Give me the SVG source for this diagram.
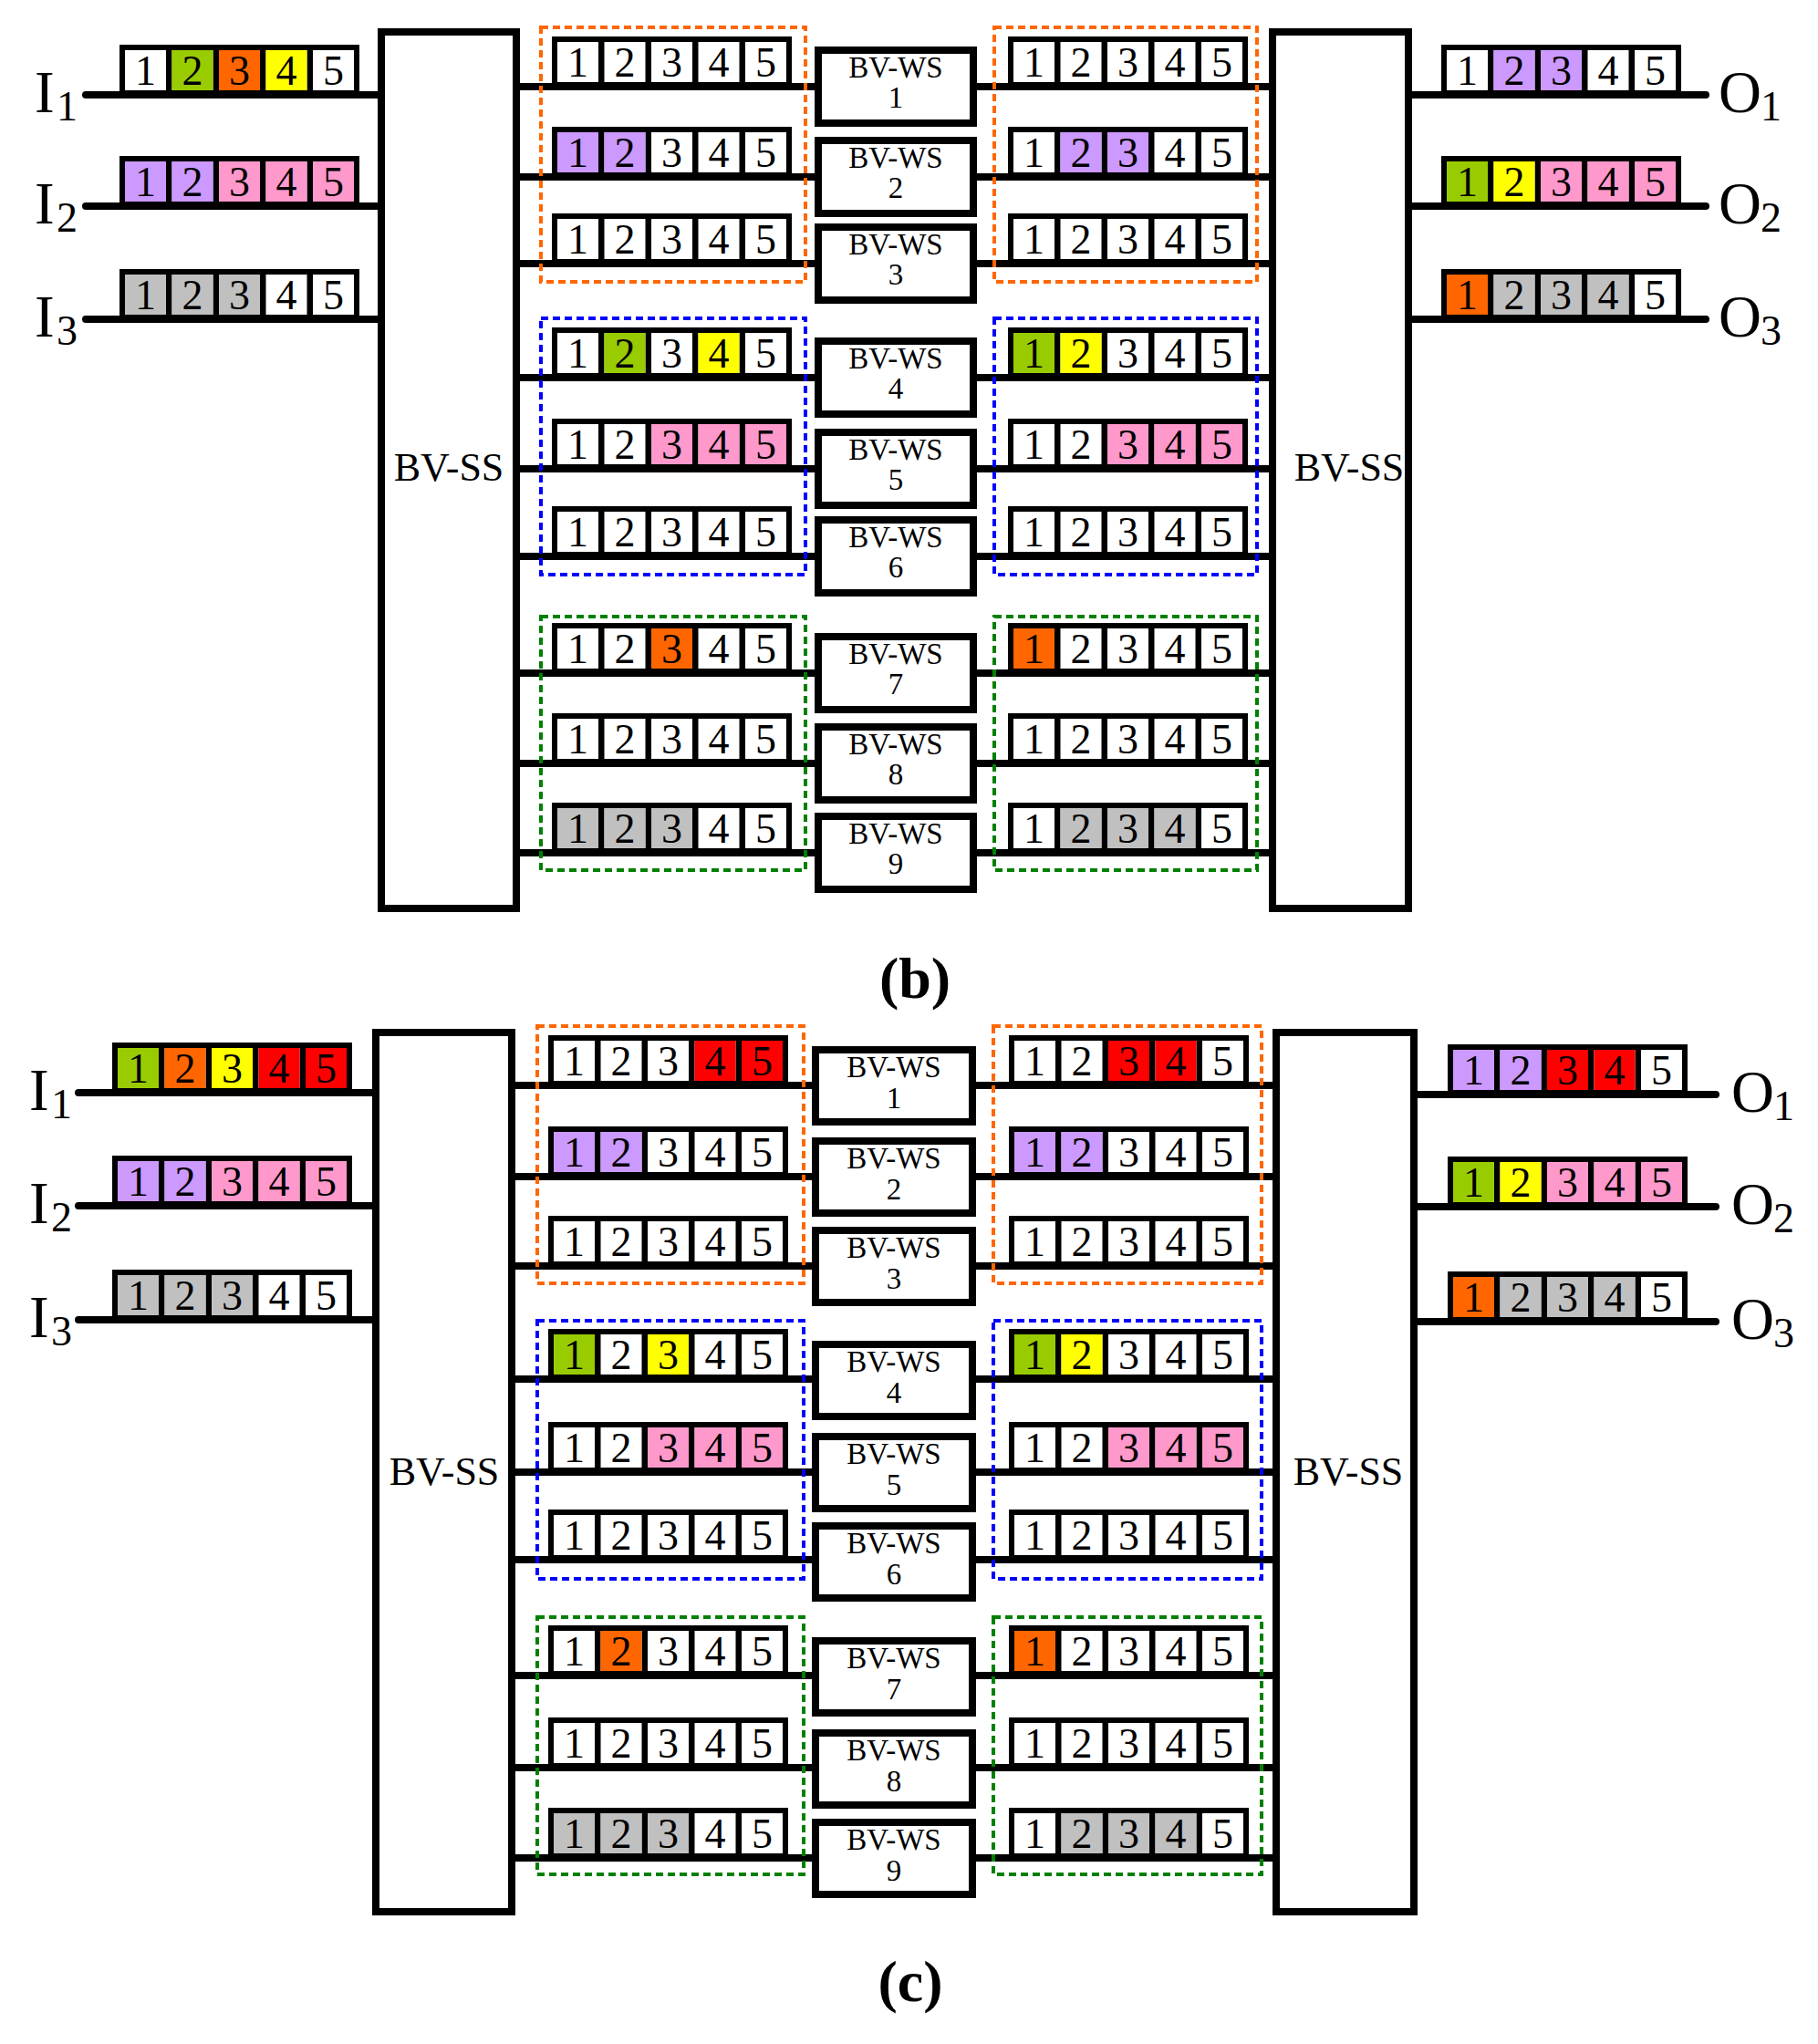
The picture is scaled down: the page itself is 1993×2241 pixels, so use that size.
<svg xmlns="http://www.w3.org/2000/svg" xmlns:xlink="http://www.w3.org/1999/xlink" width="1993" height="2241" viewBox="0 0 1993 2241">
<style>
.box{fill:#fff;stroke:#000;stroke-width:8}
.ln{stroke:#000;stroke-width:8;fill:none}
.io{stroke:#000;stroke-width:8;fill:none;stroke-linecap:round}
.d{fill:none;stroke-width:4;stroke-dasharray:8 5}
.t{font-family:"Liberation Serif","Times New Roman",serif;fill:#000}
.dg{font-size:46px;text-anchor:middle}
.ws{font-size:33px;text-anchor:middle}
.ss{font-size:44px;text-anchor:middle}
.lb{font-size:65px}
.sb{font-size:46px}
.cap{font-size:64px;font-weight:bold;text-anchor:middle}
.G{fill:#99cc00}.O{fill:#ff6600}.Y{fill:#ffff00}.P{fill:#cc99ff}.K{fill:#ff99cc}.S{fill:#c0c0c0}.R{fill:#ff0000}
</style>
<defs>
<g id="base"><rect x="0" y="-55" width="263" height="55" fill="#000"/><rect x="6" y="-49" width="45" height="44" fill="#fff"/><rect x="57.5" y="-49" width="45" height="44" fill="#fff"/><rect x="109" y="-49" width="45" height="44" fill="#fff"/><rect x="160.5" y="-49" width="45" height="44" fill="#fff"/><rect x="212" y="-49" width="45" height="44" fill="#fff"/></g>
<g id="dig" class="t dg"><text x="28.5" y="-11">1</text><text x="80" y="-11">2</text><text x="131.5" y="-11">3</text><text x="183" y="-11">4</text><text x="234.5" y="-11">5</text></g>
<rect id="c0" x="6" y="-49" width="45" height="44"/><rect id="c1" x="57.5" y="-49" width="45" height="44"/><rect id="c2" x="109" y="-49" width="45" height="44"/><rect id="c3" x="160.5" y="-49" width="45" height="44"/><rect id="c4" x="212" y="-49" width="45" height="44"/>
</defs>

<g id="connectors">
<!-- panel b -->
<path class="io" d="M94 104H418M94 226H418M94 350H418M1544 104H1870M1544 226H1870M1544 350H1870"/>
<path class="ln" d="M566 95H897M566 194H897M566 289H897M566 414H897M566 514H897M566 610H897M566 738H897M566 837H897M566 935H897"/>
<path class="ln" d="M1067 95H1395M1067 194H1395M1067 289H1395M1067 414H1395M1067 514H1395M1067 610H1395M1067 738H1395M1067 837H1395M1067 935H1395"/>
<!-- panel c -->
<path class="io" d="M86 1198H412M86 1322H412M86 1447H412M1550 1200H1881M1550 1323H1881M1550 1449H1881"/>
<path class="ln" d="M561 1190H894M561 1290H894M561 1388H894M561 1512H894M561 1614H894M561 1710H894M561 1837H894M561 1938H894M561 2037H894"/>
<path class="ln" d="M1066 1190H1399M1066 1290H1399M1066 1388H1399M1066 1512H1399M1066 1614H1399M1066 1710H1399M1066 1837H1399M1066 1938H1399M1066 2037H1399"/>
</g>

<!-- ================= PANEL B ================= -->
<g id="b-groups">
<rect class="d" x="593" y="30" width="290" height="279" stroke="#ff6600"/>
<rect class="d" x="593" y="349" width="290" height="281" stroke="#0000ff"/>
<rect class="d" x="593" y="676" width="290" height="278" stroke="#008000"/>
<rect class="d" x="1090" y="30" width="288" height="279" stroke="#ff6600"/>
<rect class="d" x="1090" y="349" width="288" height="281" stroke="#0000ff"/>
<rect class="d" x="1090" y="676" width="288" height="278" stroke="#008000"/>
</g>
<g id="b-ss-left"><rect class="box" x="418" y="35" width="148" height="961"/><text class="t ss" x="492" y="527">BV-SS</text></g>
<g id="b-ss-right"><rect class="box" x="1395" y="35" width="149" height="961"/><text class="t ss" x="1479" y="527">BV-SS</text></g>

<g id="b-ws">
<g id="b-ws1"><rect class="box" x="897" y="55" width="170" height="80"/><text class="t ws" x="982" y="85">BV-WS</text><text class="t ws" x="982" y="118">1</text></g>
<g id="b-ws2"><rect class="box" x="897" y="154" width="170" height="80"/><text class="t ws" x="982" y="184">BV-WS</text><text class="t ws" x="982" y="217">2</text></g>
<g id="b-ws3"><rect class="box" x="897" y="249" width="170" height="80"/><text class="t ws" x="982" y="279">BV-WS</text><text class="t ws" x="982" y="312">3</text></g>
<g id="b-ws4"><rect class="box" x="897" y="374" width="170" height="80"/><text class="t ws" x="982" y="404">BV-WS</text><text class="t ws" x="982" y="437">4</text></g>
<g id="b-ws5"><rect class="box" x="897" y="474" width="170" height="80"/><text class="t ws" x="982" y="504">BV-WS</text><text class="t ws" x="982" y="537">5</text></g>
<g id="b-ws6"><rect class="box" x="897" y="570" width="170" height="80"/><text class="t ws" x="982" y="600">BV-WS</text><text class="t ws" x="982" y="633">6</text></g>
<g id="b-ws7"><rect class="box" x="897" y="698" width="170" height="80"/><text class="t ws" x="982" y="728">BV-WS</text><text class="t ws" x="982" y="761">7</text></g>
<g id="b-ws8"><rect class="box" x="897" y="797" width="170" height="80"/><text class="t ws" x="982" y="827">BV-WS</text><text class="t ws" x="982" y="860">8</text></g>
<g id="b-ws9"><rect class="box" x="897" y="895" width="170" height="80"/><text class="t ws" x="982" y="925">BV-WS</text><text class="t ws" x="982" y="958">9</text></g>
</g>

<g id="b-labels" class="t">
<text class="lb" x="38" y="123">I</text><text class="sb" x="62" y="132">1</text>
<text class="lb" x="38" y="245">I</text><text class="sb" x="62" y="254">2</text>
<text class="lb" x="38" y="369">I</text><text class="sb" x="62" y="378">3</text>
<text class="lb" x="1884" y="123">O</text><text class="sb" x="1930" y="132">1</text>
<text class="lb" x="1884" y="245">O</text><text class="sb" x="1930" y="254">2</text>
<text class="lb" x="1884" y="369">O</text><text class="sb" x="1930" y="378">3</text>
<text class="cap" x="1003" y="1094">(b)</text>
</g>

<g id="b-frames">
<g transform="translate(131,104)"><use href="#base"/><use href="#c1" class="G"/><use href="#c2" class="O"/><use href="#c3" class="Y"/><use href="#dig"/></g>
<g transform="translate(131,226)"><use href="#base"/><use href="#c0" class="P"/><use href="#c1" class="P"/><use href="#c2" class="K"/><use href="#c3" class="K"/><use href="#c4" class="K"/><use href="#dig"/></g>
<g transform="translate(131,350)"><use href="#base"/><use href="#c0" class="S"/><use href="#c1" class="S"/><use href="#c2" class="S"/><use href="#dig"/></g>

<g transform="translate(605,95)"><use href="#base"/><use href="#dig"/></g>
<g transform="translate(605,194)"><use href="#base"/><use href="#c0" class="P"/><use href="#c1" class="P"/><use href="#dig"/></g>
<g transform="translate(605,289)"><use href="#base"/><use href="#dig"/></g>
<g transform="translate(605,414)"><use href="#base"/><use href="#c1" class="G"/><use href="#c3" class="Y"/><use href="#dig"/></g>
<g transform="translate(605,514)"><use href="#base"/><use href="#c2" class="K"/><use href="#c3" class="K"/><use href="#c4" class="K"/><use href="#dig"/></g>
<g transform="translate(605,610)"><use href="#base"/><use href="#dig"/></g>
<g transform="translate(605,738)"><use href="#base"/><use href="#c2" class="O"/><use href="#dig"/></g>
<g transform="translate(605,837)"><use href="#base"/><use href="#dig"/></g>
<g transform="translate(605,935)"><use href="#base"/><use href="#c0" class="S"/><use href="#c1" class="S"/><use href="#c2" class="S"/><use href="#dig"/></g>

<g transform="translate(1105,95)"><use href="#base"/><use href="#dig"/></g>
<g transform="translate(1105,194)"><use href="#base"/><use href="#c1" class="P"/><use href="#c2" class="P"/><use href="#dig"/></g>
<g transform="translate(1105,289)"><use href="#base"/><use href="#dig"/></g>
<g transform="translate(1105,414)"><use href="#base"/><use href="#c0" class="G"/><use href="#c1" class="Y"/><use href="#dig"/></g>
<g transform="translate(1105,514)"><use href="#base"/><use href="#c2" class="K"/><use href="#c3" class="K"/><use href="#c4" class="K"/><use href="#dig"/></g>
<g transform="translate(1105,610)"><use href="#base"/><use href="#dig"/></g>
<g transform="translate(1105,738)"><use href="#base"/><use href="#c0" class="O"/><use href="#dig"/></g>
<g transform="translate(1105,837)"><use href="#base"/><use href="#dig"/></g>
<g transform="translate(1105,935)"><use href="#base"/><use href="#c1" class="S"/><use href="#c2" class="S"/><use href="#c3" class="S"/><use href="#dig"/></g>

<g transform="translate(1580,104)"><use href="#base"/><use href="#c1" class="P"/><use href="#c2" class="P"/><use href="#dig"/></g>
<g transform="translate(1580,226)"><use href="#base"/><use href="#c0" class="G"/><use href="#c1" class="Y"/><use href="#c2" class="K"/><use href="#c3" class="K"/><use href="#c4" class="K"/><use href="#dig"/></g>
<g transform="translate(1580,350)"><use href="#base"/><use href="#c0" class="O"/><use href="#c1" class="S"/><use href="#c2" class="S"/><use href="#c3" class="S"/><use href="#dig"/></g>
</g>

<!-- ================= PANEL C ================= -->
<g id="c-groups">
<rect class="d" x="589" y="1125" width="292" height="282" stroke="#ff6600"/>
<rect class="d" x="589" y="1448" width="292" height="283" stroke="#0000ff"/>
<rect class="d" x="589" y="1773" width="292" height="282" stroke="#008000"/>
<rect class="d" x="1089" y="1125" width="294" height="282" stroke="#ff6600"/>
<rect class="d" x="1089" y="1448" width="294" height="283" stroke="#0000ff"/>
<rect class="d" x="1089" y="1773" width="294" height="282" stroke="#008000"/>
</g>
<g id="c-ss-left"><rect class="box" x="412" y="1132" width="149" height="964"/><text class="t ss" x="487" y="1628">BV-SS</text></g>
<g id="c-ss-right"><rect class="box" x="1399" y="1132" width="151" height="964"/><text class="t ss" x="1478" y="1628">BV-SS</text></g>

<g id="c-ws">
<g id="c-ws1"><rect class="box" x="894" y="1151" width="172" height="79"/><text class="t ws" x="980" y="1181">BV-WS</text><text class="t ws" x="980" y="1215">1</text></g>
<g id="c-ws2"><rect class="box" x="894" y="1251" width="172" height="79"/><text class="t ws" x="980" y="1281">BV-WS</text><text class="t ws" x="980" y="1315">2</text></g>
<g id="c-ws3"><rect class="box" x="894" y="1349" width="172" height="79"/><text class="t ws" x="980" y="1379">BV-WS</text><text class="t ws" x="980" y="1413">3</text></g>
<g id="c-ws4"><rect class="box" x="894" y="1474" width="172" height="79"/><text class="t ws" x="980" y="1504">BV-WS</text><text class="t ws" x="980" y="1538">4</text></g>
<g id="c-ws5"><rect class="box" x="894" y="1575" width="172" height="79"/><text class="t ws" x="980" y="1605">BV-WS</text><text class="t ws" x="980" y="1639">5</text></g>
<g id="c-ws6"><rect class="box" x="894" y="1673" width="172" height="79"/><text class="t ws" x="980" y="1703">BV-WS</text><text class="t ws" x="980" y="1737">6</text></g>
<g id="c-ws7"><rect class="box" x="894" y="1799" width="172" height="79"/><text class="t ws" x="980" y="1829">BV-WS</text><text class="t ws" x="980" y="1863">7</text></g>
<g id="c-ws8"><rect class="box" x="894" y="1900" width="172" height="79"/><text class="t ws" x="980" y="1930">BV-WS</text><text class="t ws" x="980" y="1964">8</text></g>
<g id="c-ws9"><rect class="box" x="894" y="1998" width="172" height="79"/><text class="t ws" x="980" y="2028">BV-WS</text><text class="t ws" x="980" y="2062">9</text></g>
</g>

<g id="c-labels" class="t">
<text class="lb" x="32" y="1217">I</text><text class="sb" x="56" y="1226">1</text>
<text class="lb" x="32" y="1341">I</text><text class="sb" x="56" y="1350">2</text>
<text class="lb" x="32" y="1466">I</text><text class="sb" x="56" y="1475">3</text>
<text class="lb" x="1898" y="1219">O</text><text class="sb" x="1944" y="1228">1</text>
<text class="lb" x="1898" y="1342">O</text><text class="sb" x="1944" y="1351">2</text>
<text class="lb" x="1898" y="1468">O</text><text class="sb" x="1944" y="1477">3</text>
<text class="cap" x="998" y="2194">(c)</text>
</g>

<g id="c-frames">
<g transform="translate(123,1198)"><use href="#base"/><use href="#c0" class="G"/><use href="#c1" class="O"/><use href="#c2" class="Y"/><use href="#c3" class="R"/><use href="#c4" class="R"/><use href="#dig"/></g>
<g transform="translate(123,1322)"><use href="#base"/><use href="#c0" class="P"/><use href="#c1" class="P"/><use href="#c2" class="K"/><use href="#c3" class="K"/><use href="#c4" class="K"/><use href="#dig"/></g>
<g transform="translate(123,1447)"><use href="#base"/><use href="#c0" class="S"/><use href="#c1" class="S"/><use href="#c2" class="S"/><use href="#dig"/></g>

<g transform="translate(601,1190)"><use href="#base"/><use href="#c3" class="R"/><use href="#c4" class="R"/><use href="#dig"/></g>
<g transform="translate(601,1290)"><use href="#base"/><use href="#c0" class="P"/><use href="#c1" class="P"/><use href="#dig"/></g>
<g transform="translate(601,1388)"><use href="#base"/><use href="#dig"/></g>
<g transform="translate(601,1512)"><use href="#base"/><use href="#c0" class="G"/><use href="#c2" class="Y"/><use href="#dig"/></g>
<g transform="translate(601,1614)"><use href="#base"/><use href="#c2" class="K"/><use href="#c3" class="K"/><use href="#c4" class="K"/><use href="#dig"/></g>
<g transform="translate(601,1710)"><use href="#base"/><use href="#dig"/></g>
<g transform="translate(601,1837)"><use href="#base"/><use href="#c1" class="O"/><use href="#dig"/></g>
<g transform="translate(601,1938)"><use href="#base"/><use href="#dig"/></g>
<g transform="translate(601,2037)"><use href="#base"/><use href="#c0" class="S"/><use href="#c1" class="S"/><use href="#c2" class="S"/><use href="#dig"/></g>

<g transform="translate(1106,1190)"><use href="#base"/><use href="#c2" class="R"/><use href="#c3" class="R"/><use href="#dig"/></g>
<g transform="translate(1106,1290)"><use href="#base"/><use href="#c0" class="P"/><use href="#c1" class="P"/><use href="#dig"/></g>
<g transform="translate(1106,1388)"><use href="#base"/><use href="#dig"/></g>
<g transform="translate(1106,1512)"><use href="#base"/><use href="#c0" class="G"/><use href="#c1" class="Y"/><use href="#dig"/></g>
<g transform="translate(1106,1614)"><use href="#base"/><use href="#c2" class="K"/><use href="#c3" class="K"/><use href="#c4" class="K"/><use href="#dig"/></g>
<g transform="translate(1106,1710)"><use href="#base"/><use href="#dig"/></g>
<g transform="translate(1106,1837)"><use href="#base"/><use href="#c0" class="O"/><use href="#dig"/></g>
<g transform="translate(1106,1938)"><use href="#base"/><use href="#dig"/></g>
<g transform="translate(1106,2037)"><use href="#base"/><use href="#c1" class="S"/><use href="#c2" class="S"/><use href="#c3" class="S"/><use href="#dig"/></g>

<g transform="translate(1587,1200)"><use href="#base"/><use href="#c0" class="P"/><use href="#c1" class="P"/><use href="#c2" class="R"/><use href="#c3" class="R"/><use href="#dig"/></g>
<g transform="translate(1587,1323)"><use href="#base"/><use href="#c0" class="G"/><use href="#c1" class="Y"/><use href="#c2" class="K"/><use href="#c3" class="K"/><use href="#c4" class="K"/><use href="#dig"/></g>
<g transform="translate(1587,1449)"><use href="#base"/><use href="#c0" class="O"/><use href="#c1" class="S"/><use href="#c2" class="S"/><use href="#c3" class="S"/><use href="#dig"/></g>
</g>
</svg>
